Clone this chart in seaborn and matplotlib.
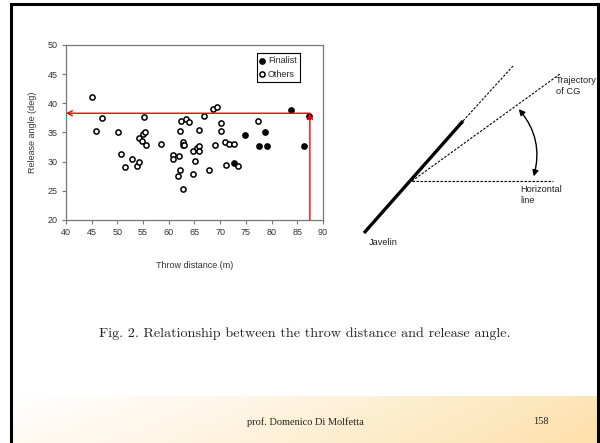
import numpy as np
import pandas as pd
import matplotlib
matplotlib.use("Agg")
import matplotlib.pyplot as plt
import seaborn as sns
from matplotlib.patches import FancyArrowPatch

# ---- data ----
others_distance = [45.1, 45.9, 47.1, 50.2, 50.75, 51.5, 52.8, 53.8, 54.2, 54.2,
                   54.7, 55.0, 55.3, 55.2, 55.5, 58.5, 60.8, 60.8, 61.7, 62.0,
                   62.2, 62.3, 62.2, 62.7, 62.7, 62.9, 62.7, 63.4, 63.9, 64.7,
                   64.8, 65.1, 65.4, 65.8, 65.8, 65.9, 66.8, 67.8, 68.6, 69.4,
                   69.0, 70.1, 70.2, 70.96, 71.1, 71.7, 72.6, 73.5, 77.3]
others_angle = [41.1, 35.3, 37.5, 35.1, 31.3, 29.0, 30.5, 29.3, 30.0, 34.0,
                33.5, 34.7, 35.1, 37.7, 32.8, 33.0, 31.1, 30.5, 27.5, 31.0,
                28.6, 36.9, 35.3, 33.4, 32.8, 32.9, 25.3, 37.3, 36.8, 27.9,
                31.9, 30.1, 32.3, 35.5, 32.6, 31.9, 37.9, 28.6, 39.0, 39.4,
                32.9, 35.2, 36.6, 33.4, 29.4, 33.0, 33.0, 29.2, 36.9]
finalist_distance = [72.7, 74.8, 77.6, 78.8, 79.2, 83.7, 86.3, 87.3]
finalist_angle = [29.8, 34.5, 32.6, 35.0, 32.6, 38.9, 32.6, 37.9]
best_distance = 87.45
best_angle = 38.3
x_ticks = [40, 45, 50, 55, 60, 65, 70, 75, 80, 85, 90]
y_ticks = [20, 25, 30, 35, 40, 45, 50]

df = pd.concat([
    pd.DataFrame({"distance": finalist_distance, "angle": finalist_angle, "group": "Finalist"}),
    pd.DataFrame({"distance": others_distance, "angle": others_angle, "group": "Others"}),
], ignore_index=True)

sns.set_style("white")
plt.rcParams["font.family"] = ["Liberation Sans", "DejaVu Sans"]

W, H = 600, 443
fig = plt.figure(figsize=(6, 4.43), dpi=100)

# ---- background overlay (slide frame, footer, diagram) ----
bg = fig.add_axes([0, 0, 1, 1], zorder=0)
bg.set_xlim(0, W)
bg.set_ylim(H, 0)
bg.axis("off")

# footer gradient
grad = np.linspace(0, 1, 256)
c0 = np.array([1.0, 1.0, 1.0])
c1 = np.array([253, 224, 170]) / 255
gy = np.linspace(0, 1, 30)[:, None]
t = np.clip(grad[None, :] ** 1.2 * 0.85 + gy * 0.15, 0, 1)
img = c0[None, None, :] * (1 - t[..., None]) + c1[None, None, :] * t[..., None]
bg.imshow(img, extent=(11, 598, H, 396), aspect="auto", zorder=0)

# frame
bg.plot([11, 11, 598, 598], [H, 4.0, 4.0, H], color="black", lw=2.2, zorder=5,
        solid_joinstyle="miter")

# diagram
P = (412, 181)
bg.plot([364, 463], [233, 121], color="black", lw=2.4, solid_capstyle="butt", zorder=3)
dash = dict(color="black", lw=0.8, ls=(0, (2.2, 1.4)), zorder=3)
bg.plot([463, 513], [121, 66], **dash)
bg.plot([P[0], 560], [P[1], 74], **dash)
bg.plot([P[0], 553], [P[1], 181], **dash)
arc = FancyArrowPatch((517, 107), (533, 179), connectionstyle="arc3,rad=-0.28",
                      arrowstyle="<|-|>,head_length=3.5,head_width=1.8",
                      color="black", lw=1.0, zorder=3)
bg.add_patch(arc)
fs = 6.7
bg.text(556, 86, "Trajectory\nof CG", fontsize=fs, color="#222222", va="center",
        ha="left", linespacing=1.15)
bg.text(520, 195, "Horizontal\nline", fontsize=fs, color="#222222", va="center",
        ha="left", linespacing=1.15)
bg.text(369, 242, "Javelin", fontsize=fs, color="#222222", va="center", ha="left")

# caption and footer
bg.text(305, 334, "Fig. 2. Relationship between the throw distance and release angle.",
        family=["cmr10", "DejaVu Serif"], fontsize=10.2, ha="center", va="center",
        color="#222222")
bg.text(305, 422, "prof. Domenico Di Molfetta", family=["Liberation Serif"],
        fontsize=7.5, ha="center", va="center", color="#222222")
bg.text(541, 422, "158", family=["Liberation Serif"], fontsize=7.5, ha="center",
        va="center", color="#222222")

# ---- scatter chart ----
ax = fig.add_axes([66 / W, 1 - 220 / H, (323 - 66) / W, (220 - 45) / H], zorder=2)
ax.set_facecolor("white")
fin = df[df.group == "Finalist"]
oth = df[df.group == "Others"]
sns.scatterplot(data=oth, x="distance", y="angle", ax=ax, marker="o", s=14,
                facecolor="white", edgecolor="black", linewidth=1.1,
                label="Others", zorder=3)
sns.scatterplot(data=fin, x="distance", y="angle", ax=ax, marker="o", s=14,
                facecolor="black", edgecolor="black", linewidth=1.1,
                label="Finalist", zorder=4)

ax.annotate("", xy=(40, best_angle), xytext=(best_distance, best_angle),
            arrowprops=dict(arrowstyle="->,head_length=0.35,head_width=0.18",
                            color="red", lw=1.0, shrinkA=0, shrinkB=0), zorder=5)
ax.annotate("", xy=(best_distance, best_angle), xytext=(best_distance, 20),
            arrowprops=dict(arrowstyle="->,head_length=0.35,head_width=0.18",
                            color="red", lw=1.0, shrinkA=0, shrinkB=0), zorder=5)

ax.set_xlim(40, 90)
ax.set_ylim(20, 50)
ax.set_xticks(x_ticks)
ax.set_yticks(y_ticks)
ax.tick_params(axis="both", which="major", labelsize=6.5, length=3, width=0.8,
               color="#777777", direction="out", labelcolor="#333333",
               bottom=True, left=True, pad=3)
for s in ax.spines.values():
    s.set_color("#777777")
    s.set_linewidth(0.9)
ax.set_xlabel("Throw distance (m)", fontsize=6.5, color="#333333", labelpad=17)
ax.set_ylabel("Release angle (deg)", fontsize=6.5, color="#333333", labelpad=8)

handles, labels = ax.get_legend_handles_labels()
order = [labels.index("Finalist"), labels.index("Others")]
leg = ax.legend([handles[i] for i in order], [labels[i] for i in order],
                loc="upper right", bbox_to_anchor=(0.91, 0.955), fontsize=6.5,
                frameon=True, fancybox=False, edgecolor="black", framealpha=1,
                handlelength=0.5, handletextpad=0.4, borderpad=0.35,
                labelspacing=0.5, borderaxespad=0)
leg.get_frame().set_linewidth(0.8)

fig.savefig("out.png", dpi=100)
